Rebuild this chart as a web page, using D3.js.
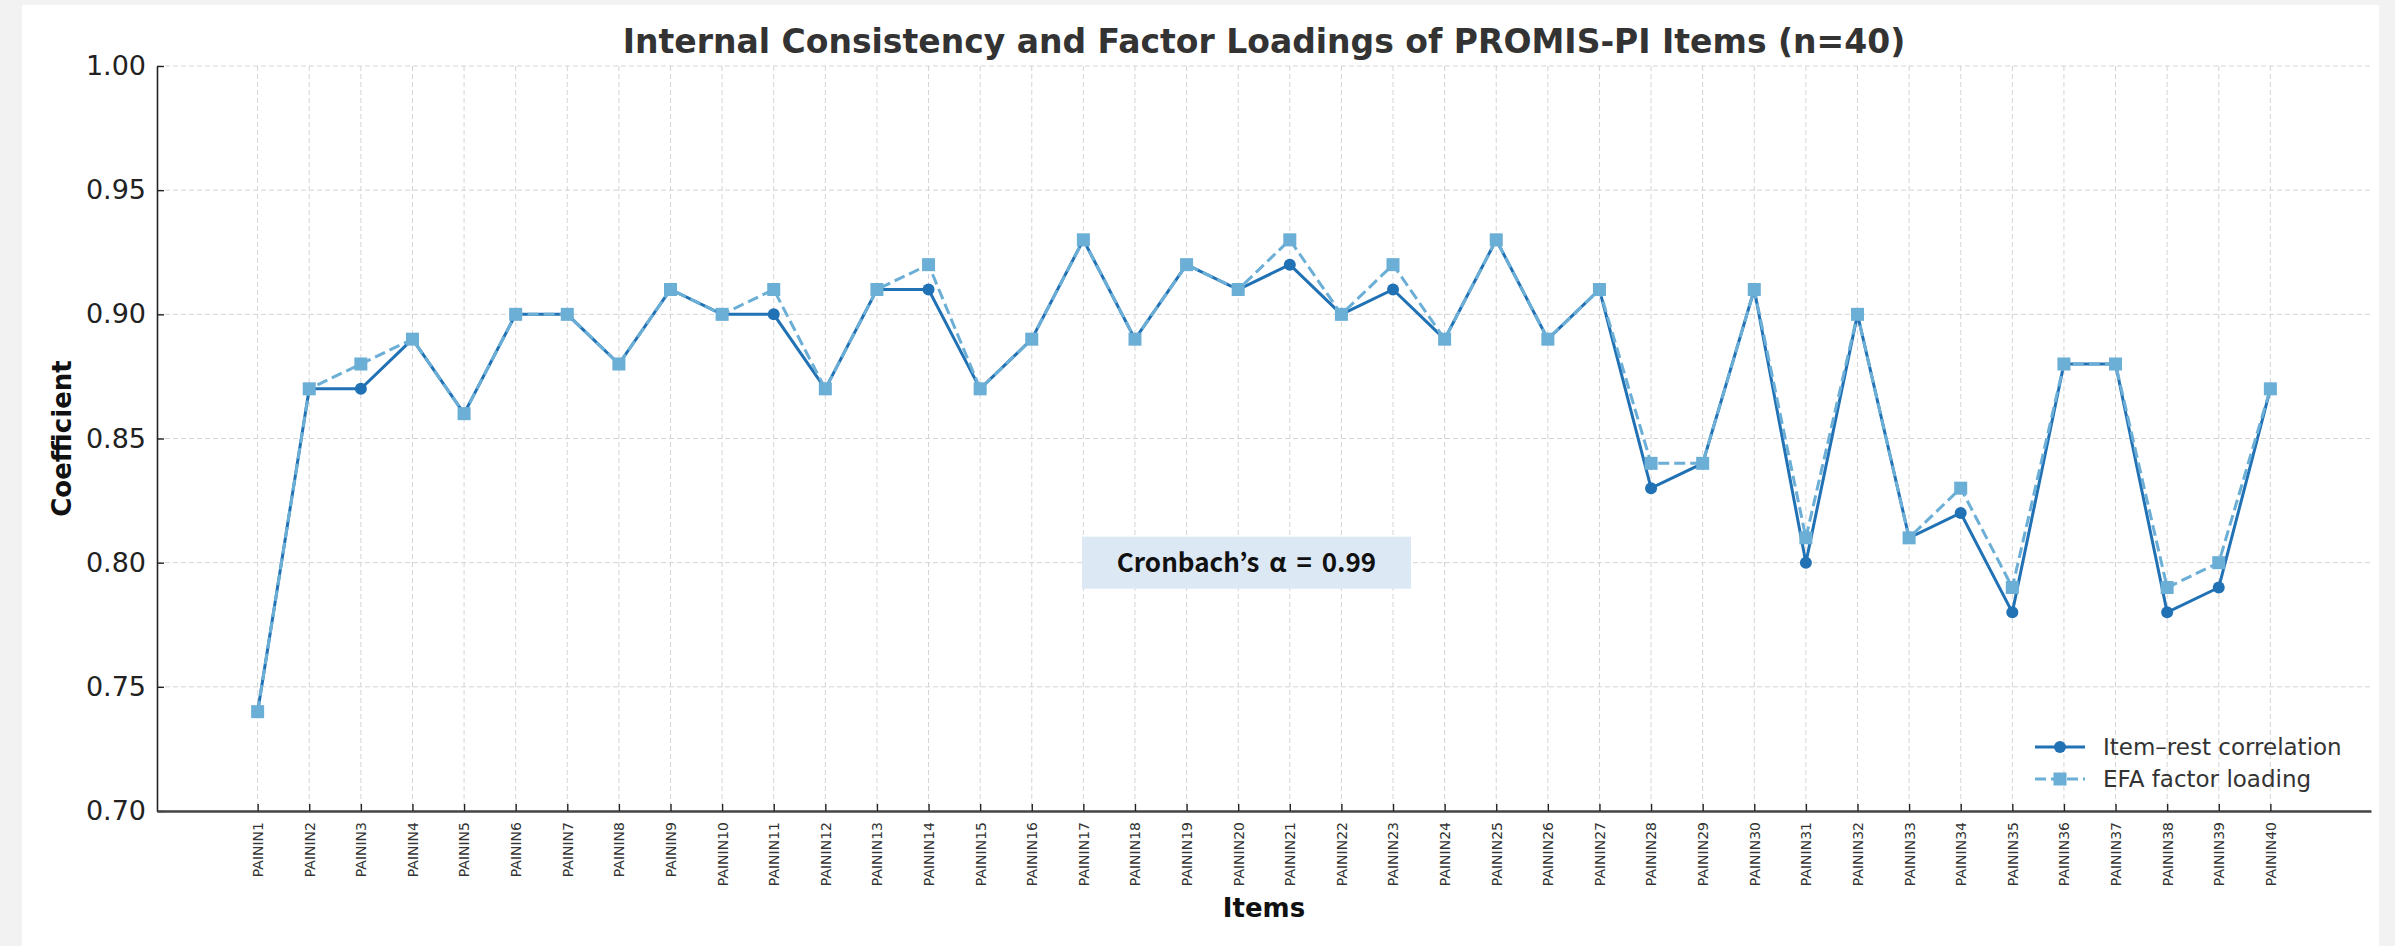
<!DOCTYPE html>
<html>
<head>
<meta charset="utf-8">
<script src="https://cdn.jsdelivr.net/npm/d3@7"></script>
<style>
  html, body { margin: 0; padding: 0; background: #f2f2f2; }
  svg { display: block; }
</style>
</head>
<body>
<svg id="svg" width="2395" height="946"></svg>
<script>
/**
 * DATA
 */
var items = ["PAININ1","PAININ2","PAININ3","PAININ4","PAININ5","PAININ6","PAININ7","PAININ8","PAININ9","PAININ10",
    "PAININ11","PAININ12","PAININ13","PAININ14","PAININ15","PAININ16","PAININ17","PAININ18","PAININ19","PAININ20",
    "PAININ21","PAININ22","PAININ23","PAININ24","PAININ25","PAININ26","PAININ27","PAININ28","PAININ29","PAININ30",
    "PAININ31","PAININ32","PAININ33","PAININ34","PAININ35","PAININ36","PAININ37","PAININ38","PAININ39","PAININ40"];

var itemRest = [0.74,0.87,0.87,0.89,0.86,0.90,0.90,0.88,0.91,0.90,
    0.90,0.87,0.91,0.91,0.87,0.89,0.93,0.89,0.92,0.91,
    0.92,0.90,0.91,0.89,0.93,0.89,0.91,0.83,0.84,0.91,
    0.80,0.90,0.81,0.82,0.78,0.88,0.88,0.78,0.79,0.87];

var efaLoading = [0.74,0.87,0.88,0.89,0.86,0.90,0.90,0.88,0.91,0.90,
    0.91,0.87,0.91,0.92,0.87,0.89,0.93,0.89,0.92,0.91,
    0.93,0.90,0.92,0.89,0.93,0.89,0.91,0.84,0.84,0.91,
    0.81,0.90,0.81,0.83,0.79,0.88,0.88,0.79,0.80,0.87];

var yTicks = [0.70, 0.75, 0.80, 0.85, 0.90, 0.95, 1.00];
var seriesNames = ["Item\u2013rest correlation", "EFA factor loading"];
var alphaText = "Cronbach\u2019s \u03b1 = 0.99";

/**
 * LAYOUT
 */
var plotLeft = 157, plotRight = 2371, plotTop = 66, plotBottom = 811;
var darkBlue = "#2171b5", lightBlue = "#6baed6";

var svg = d3.select("#svg");

// page + white panel
svg.append("rect").attr("width", 2395).attr("height", 946).attr("fill", "#f2f2f2");
svg.append("rect").attr("x", 22).attr("y", 5).attr("width", 2357).attr("height", 941).attr("fill", "#fff");

var x = d3.scaleLinear().domain([-1.95, items.length - 1 + 1.95]).range([plotLeft, plotRight]);
var y = d3.scaleLinear().domain([0.70, 1.00]).range([plotBottom, plotTop]);

/* GRID */
var grid = svg.append("g").attr("stroke", "#d4d4d4").attr("stroke-width", 1).attr("stroke-dasharray", "5,3");
grid.selectAll("line.v").data(d3.range(items.length)).enter().append("line")
    .attr("x1", function(d) { return x(d); }).attr("x2", function(d) { return x(d); })
    .attr("y1", plotTop).attr("y2", plotBottom);
grid.selectAll("line.h").data(yTicks).enter().append("line")
    .attr("x1", plotLeft).attr("x2", plotRight)
    .attr("y1", function(d) { return y(d); }).attr("y2", function(d) { return y(d); });

/* AXES */
var yAxis = svg.append("g")
    .attr("transform", "translate(" + plotLeft + ",0)")
    .call(d3.axisLeft(y).tickValues(yTicks).tickFormat(d3.format(".2f")).tickSize(-7).tickPadding(11).tickSizeOuter(0));
yAxis.select(".domain").attr("stroke", "#222").attr("stroke-width", 1.6);
yAxis.selectAll(".tick line").attr("stroke", "#222").attr("stroke-width", 1.4);
yAxis.selectAll(".tick text")
    .attr("font-family", "DejaVu Sans").attr("font-size", 27).attr("fill", "#222");

var xAxis = svg.append("g")
    .attr("transform", "translate(0," + plotBottom + ")")
    .call(d3.axisBottom(x).tickValues(d3.range(items.length))
        .tickFormat(function(i) { return items[i]; }).tickSize(-7).tickSizeOuter(0));
xAxis.select(".domain").attr("stroke", "#444").attr("stroke-width", 2.5);
xAxis.selectAll(".tick line").attr("stroke", "#222").attr("stroke-width", 1.4);
xAxis.selectAll(".tick text")
    .attr("transform", "rotate(-90)")
    .attr("x", -11).attr("y", 0).attr("dy", "0.35em")
    .attr("text-anchor", "end")
    .attr("font-family", "DejaVu Sans").attr("font-size", 14).attr("fill", "#333");

/* LINES */
var line = function(values) {
    return d3.line().x(function(d, i) { return x(i); }).y(function(d) { return y(d); })(values);
};

svg.append("path").attr("d", line(itemRest))
    .attr("fill", "none").attr("stroke", darkBlue).attr("stroke-width", 3);
svg.selectAll("circle.ir").data(itemRest).enter().append("circle")
    .attr("cx", function(d, i) { return x(i); }).attr("cy", function(d) { return y(d); })
    .attr("r", 6).attr("fill", darkBlue);

svg.append("path").attr("d", line(efaLoading))
    .attr("fill", "none").attr("stroke", lightBlue).attr("stroke-width", 3)
    .attr("stroke-dasharray", "11,5");
svg.selectAll("rect.efa").data(efaLoading).enter().append("rect")
    .attr("x", function(d, i) { return x(i) - 6.5; }).attr("y", function(d) { return y(d) - 6.5; })
    .attr("width", 13).attr("height", 13).attr("fill", lightBlue);

/* TEXTS */
svg.append("text").text("Internal Consistency and Factor Loadings of PROMIS-PI Items (n=40)")
    .attr("x", (plotLeft + plotRight) / 2).attr("y", 53).attr("text-anchor", "middle")
    .attr("font-family", "DejaVu Sans").attr("font-weight", "bold").attr("font-size", 33).attr("fill", "#333");

svg.append("text").text("Items")
    .attr("x", (plotLeft + plotRight) / 2).attr("y", 917).attr("text-anchor", "middle")
    .attr("font-family", "DejaVu Sans").attr("font-weight", "bold").attr("font-size", 26).attr("fill", "#111");

svg.append("text").text("Coefficient")
    .attr("transform", "translate(71," + ((plotTop + plotBottom) / 2) + ") rotate(-90)")
    .attr("text-anchor", "middle")
    .attr("font-family", "DejaVu Sans").attr("font-weight", "bold").attr("font-size", 26).attr("fill", "#111");

// Cronbach box
var boxCx = 1246.5, boxCy = y(0.80);
svg.append("rect").attr("x", boxCx - 164.5).attr("y", boxCy - 26).attr("width", 329).attr("height", 52)
    .attr("fill", "#dce9f5");
svg.append("text").text(alphaText)
    .attr("x", boxCx).attr("y", boxCy).attr("dy", "0.35em").attr("text-anchor", "middle")
    .attr("word-spacing", 4)
    .attr("font-family", "Noto Sans CJK KR").attr("font-weight", "bold").attr("font-size", 26).attr("fill", "#111");

/* LEGEND */
var legend = svg.append("g").attr("transform", "translate(2035,747)");
seriesNames.forEach(function(name, i) {
    var g = legend.append("g").attr("transform", "translate(0," + (i * 32) + ")");
    if (i === 0) {
        g.append("line").attr("x1", 0).attr("x2", 50).attr("stroke", darkBlue).attr("stroke-width", 3);
        g.append("circle").attr("cx", 25).attr("r", 6).attr("fill", darkBlue);
    } else {
        g.append("line").attr("x1", 0).attr("x2", 50).attr("stroke", lightBlue).attr("stroke-width", 3)
            .attr("stroke-dasharray", "11,5");
        g.append("rect").attr("x", 18.5).attr("y", -6.5).attr("width", 13).attr("height", 13).attr("fill", lightBlue);
    }
    g.append("text").text(name).attr("x", 68).attr("dy", "0.35em")
        .attr("font-family", "DejaVu Sans").attr("font-size", 23).attr("fill", "#333");
});
</script>
</body>
</html>
